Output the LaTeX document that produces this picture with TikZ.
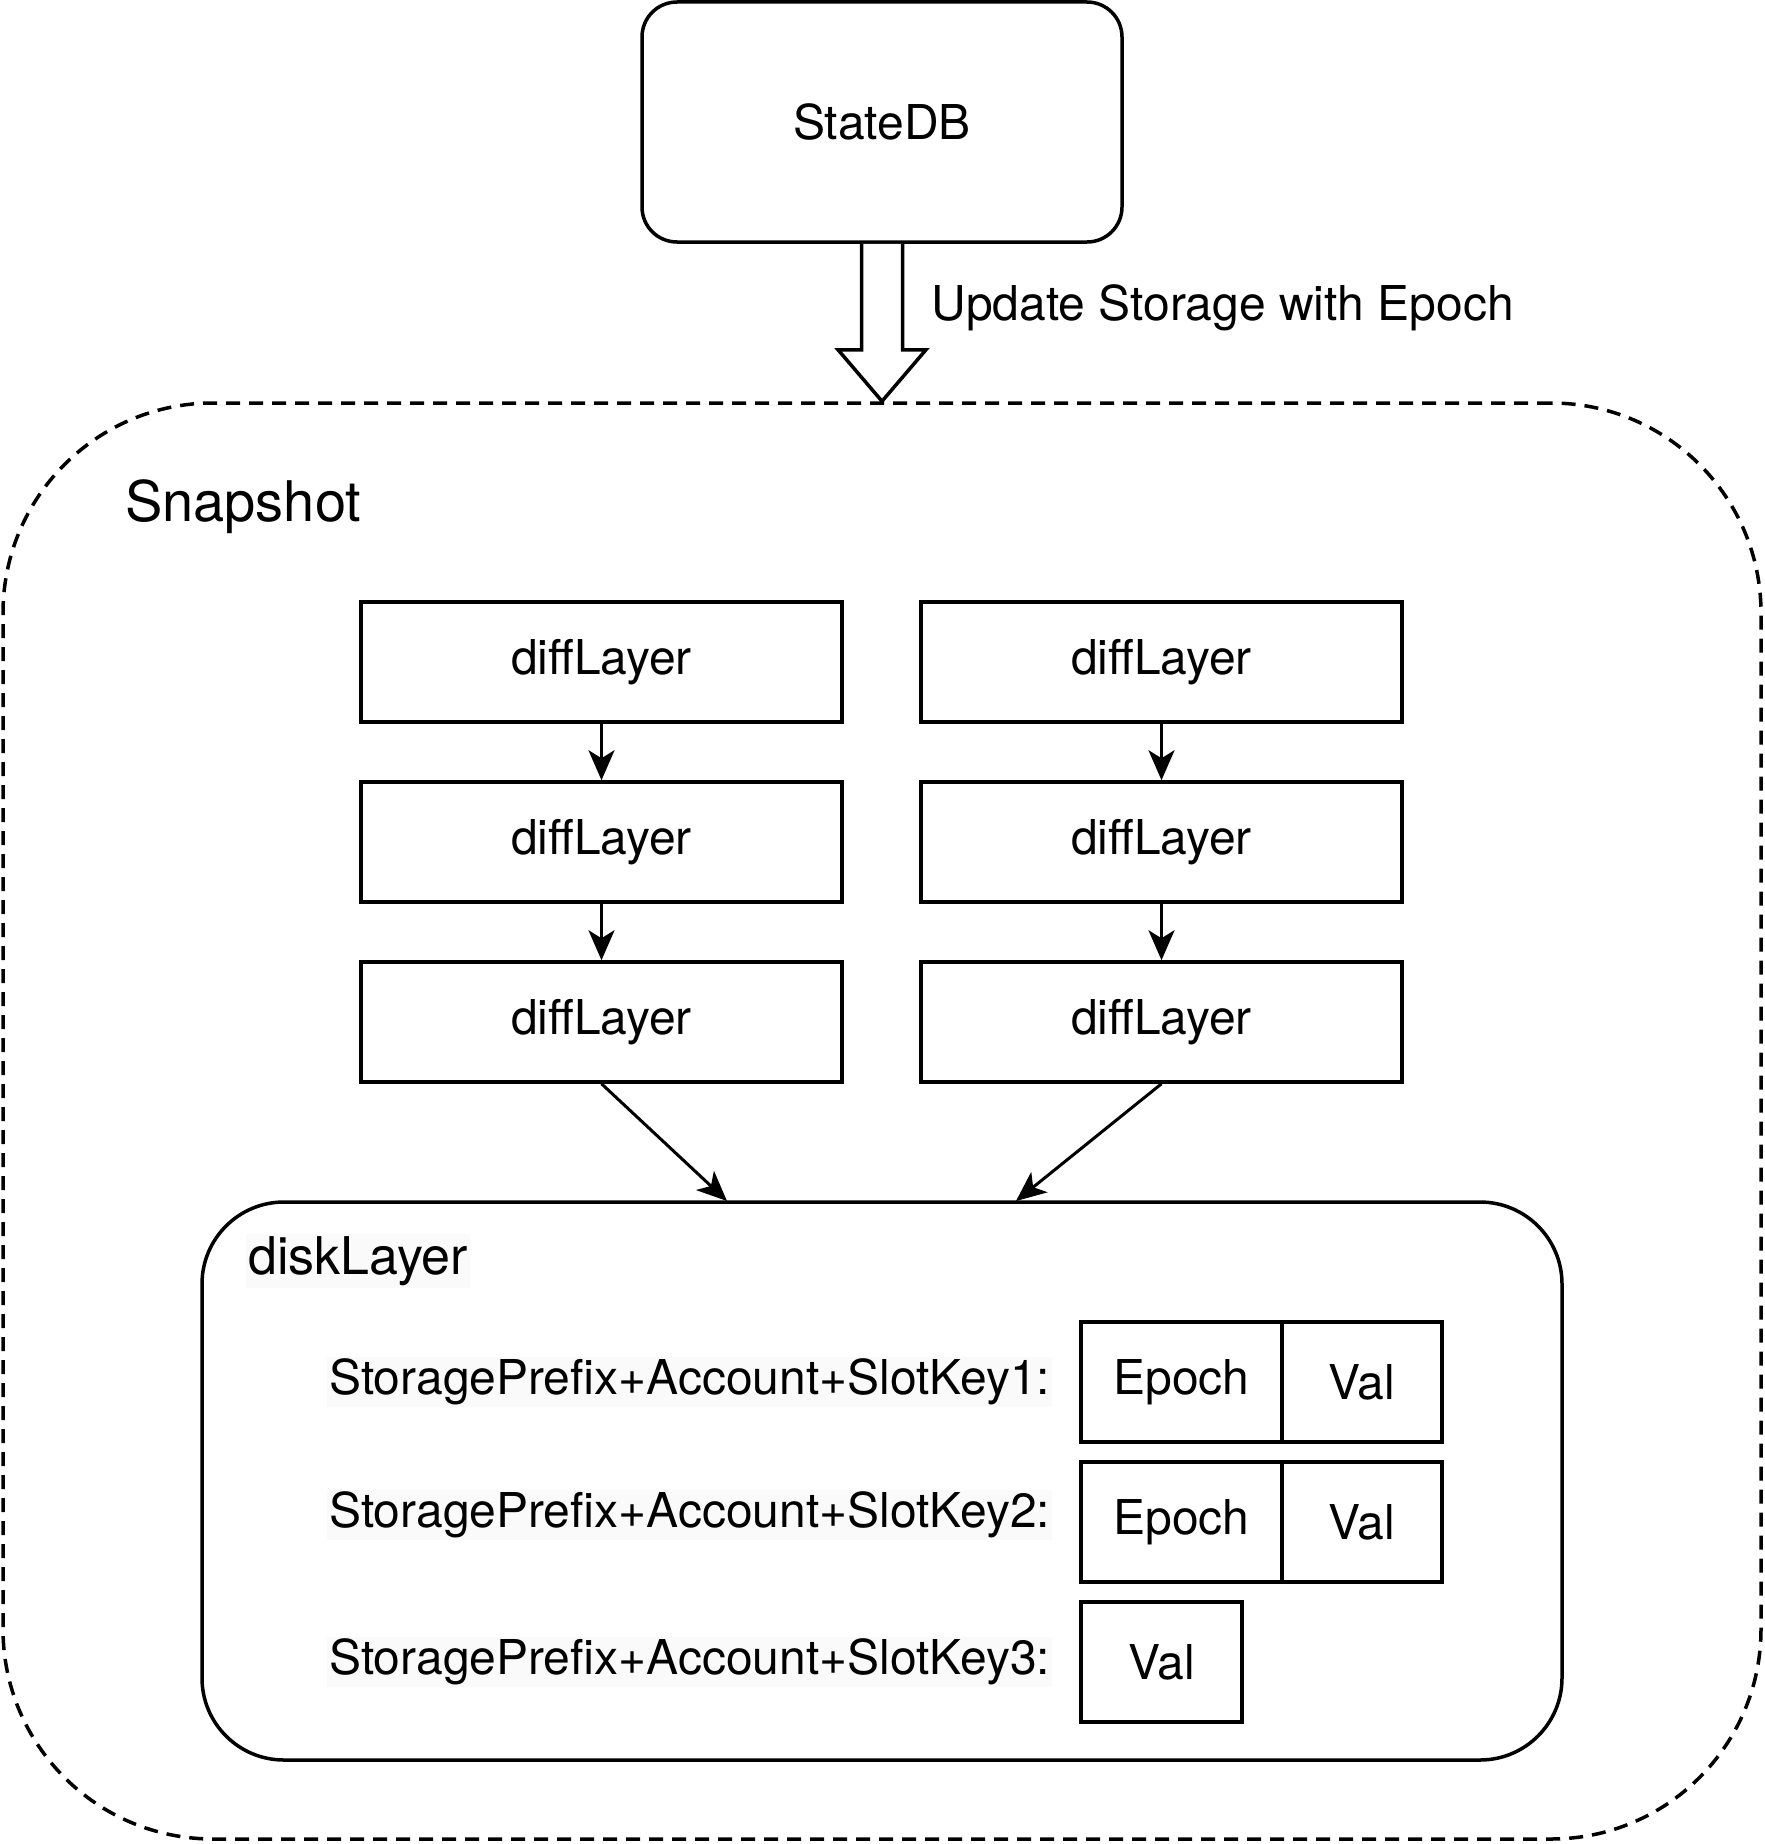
\documentclass[tikz,border=0pt]{standalone}
\usepackage{fontspec}
\setmainfont{TeX Gyre Heros}
\usetikzlibrary{arrows.meta,calc}
\begin{document}
\begin{tikzpicture}[x=1pt,y=-1pt,
  base/.style={draw=black, line width=3.5pt, inner sep=0pt, font=\fontsize{48}{58}\selectfont},
  layerbox/.style={base, minimum width=481pt, minimum height=120pt},
  cell/.style={base, minimum height=120pt},
  keytext/.style={inner sep=2pt, fill=black!2, anchor=west, font=\fontsize{48}{58}\selectfont},
  link/.style={line width=3pt, -{Stealth[length=30pt,width=26pt,inset=8pt]}}]
\useasboundingbox[fill=white] (0,0) rectangle (1764,1844);

% Snapshot container
\node[base, dashed, dash pattern=on 14pt off 9pt, rounded corners=210pt,
      minimum width=1758pt, minimum height=1436pt] (snap) at (882,1121) {};
\node[anchor=west, inner sep=0pt, font=\fontsize{56}{66}\selectfont] (snaplbl) at (125,507) {Snapshot};

% StateDB
\node[base, rounded corners=35pt, minimum width=480pt, minimum height=240pt] (statedb) at (882,122) {StateDB};

% hollow arrow
\draw[line width=3.5pt, fill=white, line join=miter]
  ($(statedb.south)+(-20.5,0)$) -- ($(statedb.south)+(-20.5,106)$) -- ($(statedb.south)+(-44,106)$)
  -- (snap.north) -- ($(statedb.south)+(44,106)$) -- ($(statedb.south)+(20.5,106)$) -- ($(statedb.south)+(20.5,0)$);
\node[anchor=west, inner sep=0pt, font=\fontsize{48}{58}\selectfont] (updlbl) at (931,308) {Update Storage with Epoch};

% diff layers
\node[layerbox] (l1) at (601.5,662) {diffLayer};
\node[layerbox] (l2) at (601.5,842) {diffLayer};
\node[layerbox] (l3) at (601.5,1022) {diffLayer};
\node[layerbox] (r1) at (1161.5,662) {diffLayer};
\node[layerbox] (r2) at (1161.5,842) {diffLayer};
\node[layerbox] (r3) at (1161.5,1022) {diffLayer};
\draw[link] (l1.south) -- (l2.north);
\draw[link] (l2.south) -- (l3.north);
\draw[link] (r1.south) -- (r2.north);
\draw[link] (r2.south) -- (r3.north);

% disk layer
\node[base, rounded corners=82pt, minimum width=1360pt, minimum height=558pt] (disk) at (882,1481) {};
\coordinate (inL) at (727,1201);
\coordinate (inR) at (1016,1201);
\draw[link] (l3.south) -- (inL);
\draw[link] (r3.south) -- (inR);
\node[keytext, font=\fontsize{52}{62}\selectfont] (disklbl) at (246,1261) {diskLayer};

% rows
\node[keytext] (k1) at (327,1382) {StoragePrefix+Account+SlotKey1:};
\node[keytext] (k2) at (327,1515) {StoragePrefix+Account+SlotKey2:};
\node[keytext] (k3) at (327,1662) {StoragePrefix+Account+SlotKey3:};

\node[cell, minimum width=201pt] (e1) at (1181.5,1382) {Epoch};
\node[cell, minimum width=160pt] (v1) at (1362,1382) {Val};
\node[cell, minimum width=201pt] (e2) at (1181.5,1522) {Epoch};
\node[cell, minimum width=160pt] (v2) at (1362,1522) {Val};
\node[cell, minimum width=161pt] (v3) at (1161.5,1662) {Val};
\end{tikzpicture}
\end{document}
